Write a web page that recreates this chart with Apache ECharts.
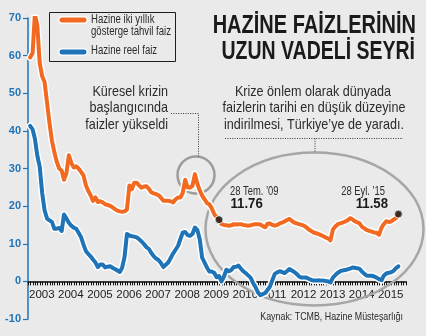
<!DOCTYPE html>
<html>
<head>
<meta charset="utf-8">
<script src="https://cdn.jsdelivr.net/npm/echarts@6/dist/echarts.min.js"></script>
<style>
  html, body { margin: 0; padding: 0; background: #eaeaea; }
  #chart { width: 426px; height: 336px; }
</style>
</head>
<body>
<div id="chart"></div>
<script>
// Year tick labels on the time axis
const yearLabels = ['2003', '2004', '2005', '2006', '2007', '2008', '2009',
                    '2010', '2011', '2012', '2013', '2014', '2015'];

// Hazine iki yıllık gösterge tahvil faizi (%), monthly, Jan 2003 – Sep 2015
const bondYield = [
  59.5, 60.7, 71, 68, 58, 54.5, 53, 47.5, 42, 37.5, 34.3, 31.8,        // 2003
  30, 29.4, 27, 28.8, 33.5, 31.5, 30.3, 30.6, 30, 29.1, 28.2, 25.6,    // 2004
  24, 22.8, 21.4, 22.3, 21.1, 21.3, 21, 20.5, 20.3, 20.1, 19.7, 19.2,  // 2005
  18.8, 18.6, 18.5, 18.6, 19.1, 25.5, 24.5, 26.2, 26.2, 25.5, 24.9, 25.2, // 2006
  25.3, 24.6, 23.7, 23.4, 23.2, 22.9, 22.3, 21.4, 21.4, 21.4, 21.3, 21,   // 2007
  21.8, 22.3, 22.3, 23.5, 27, 25, 24.9, 25.4, 28.5, 26, 24.2, 22.8,    // 2008
  21.8, 20.8, 20.5, 19.4, 17.9, 17, 16.4, 15.2, 15, 14.9, 14.8, 14.9,  // 2009
  15.2, 15.1, 15.2, 15.2, 15, 14.9, 14.8, 14.9, 15.1, 15.2, 15.2, 15.1, // 2010
  14.7, 14.4, 15.3, 15.4, 15, 14.8, 15, 15.4, 15.6, 15.9, 16.3, 16.6,  // 2011
  16.1, 15.6, 15.4, 15.2, 15, 14.8, 14.4, 13.8, 13.4, 13, 12.8, 12.6,  // 2012
  12.3, 12, 11.7, 11.4, 10.9, 13.8, 14.6, 15.2, 15.4, 15.6, 15.9, 16.2, // 2013
  16.8, 16.5, 16, 15.7, 15.4, 14.5, 14.1, 13.6, 13.4, 13.2, 13, 12.9,  // 2014
  12.4, 14.3, 15.2, 16, 15.8, 15.9, 16.4, 16.8, 17.9                   // 2015
];

// Hazine reel faizi (%), same months
const realRate = [
  41.3, 40.4, 38, 33.4, 30.5, 23.5, 18.9, 16.7, 16.2, 15.8, 14, 14,    // 2003
  14.2, 13.4, 17.8, 16.7, 15.6, 14.8, 14.3, 14, 12.9, 11.8, 9.8, 8.1,  // 2004
  7.3, 6.6, 5.8, 5, 3.8, 4.5, 4.5, 3.7, 3.9, 4, 3.6, 3.3,              // 2005
  2.9, 2.5, 3.6, 6.5, 12.6, 12.2, 12, 11.9, 11.7, 11.2, 10.6, 9.9,     // 2006
  9.1, 8.6, 7.6, 6.7, 6.1, 5.7, 4.9, 3.8, 4.4, 5, 6.2, 7.4,            // 2007
  8.4, 9.4, 11.2, 13, 13.1, 12.3, 12.1, 12.6, 14.3, 13.7, 11.2, 6.3,   // 2008
  5, 3.6, 2.6, 2.6, 2.3, 1.1, 1.4, 0, 1.3, 3.1, 2.7, 3,                // 2009
  3.8, 3.9, 4.2, 3.4, 2.7, 2.2, 1.6, 1, -0.4, -1.5, -2.9, -3.7,        // 2010
  -3.4, -3.1, -2.3, -1.4, 0.3, 2, 2.4, 2.7, 2.5, 2.2, 2.7, 3.3,        // 2011
  2.9, 2.5, 2, 1.3, 1, 1, 1, 0.7, 0.4, 0.2, 0.2, 0.3,                  // 2012
  0.2, 0.2, 0.1, 0, -0.3, 1, 1.7, 2.3, 2.7, 2.9, 3, 3.2,               // 2013
  3.4, 3.7, 3.6, 3.5, 3.3, 2.6, 2, 1.5, 1.5, 1.5, 1.3, 1,              // 2014
  0.6, 0.3, 1.5, 2.1, 2.3, 2.4, 2.8, 3.5, 4                            // 2015
];

// Highlighted readings on the bond-yield line
const calloutDates  = ['2009-07-28', '2015-09-28'];
const calloutTitles = ['28 Tem. \u201909', '28 Eyl. \u201915'];
const calloutValues = ['11.76', '11.58'];

const seriesNames = ['Hazine iki yıllık gösterge tahvil faiz', 'Hazine reel faiz'];

// Observation dates: the 28th of every month
const dates = bondYield.map((_, i) => {
  const y = 2003 + Math.floor(i / 12);
  const m = (i % 12) + 1;
  return y + '-' + String(m).padStart(2, '0') + '-28';
});

// Date string -> fractional year for the value axis
function toYear(s) {
  const [y, m, d] = s.split('-').map(Number);
  const start = Date.UTC(y, 0, 1), end = Date.UTC(y + 1, 0, 1);
  return y + (Date.UTC(y, m - 1, d) - start) / (end - start);
}

const ORANGE = '#f26a21';
const BLUE = '#1f73b7';
const TEXT = '#2b2b2b';
const FONT = '"Liberation Sans", Arial, sans-serif';

const bondData = dates.map((d, i) => [toYear(d), bondYield[i]]);
const realData = dates.map((d, i) => [toYear(d), realRate[i]]);
const calloutData = calloutDates.map(d => [toYear(d), bondYield[dates.indexOf(d)]]);

// Condensed-looking text: regular face squeezed horizontally
function label(text, x, baseline, size, opt) {
  opt = opt || {};
  const weight = opt.bold ? 'bold ' : '';
  return {
    type: 'text',
    x: x,
    y: baseline - 0.33 * size,
    scaleX: opt.squeeze || 0.84,
    z: 10,
    style: {
      text: text,
      font: weight + size + 'px ' + FONT,
      fill: opt.color || TEXT,
      textAlign: opt.align || 'left',
      textVerticalAlign: 'middle',
      align: opt.align || 'left',
      verticalAlign: 'middle'
    }
  };
}

function dotted(points) {
  return {
    type: 'polyline',
    z: 5,
    shape: { points: points },
    style: { stroke: '#3a3a3a', lineWidth: 1, lineDash: [1, 1.4], fill: null }
  };
}

function legendSwatch(y, color) {
  return [
    { type: 'line', z: 10, shape: { x1: 62, y1: y, x2: 84, y2: y },
      style: { stroke: '#ffffff', lineWidth: 7.5, lineCap: 'round' } },
    { type: 'line', z: 11, shape: { x1: 62, y1: y, x2: 84, y2: y },
      style: { stroke: color, lineWidth: 5, lineCap: 'round' } }
  ];
}

const graphics = [
  // title
  label('HAZİNE FAİZLERİNİN', 416, 34, 25, { bold: true, align: 'right', squeeze: 0.8, color: '#1a1a1a' }),
  label('UZUN VADELİ SEYRİ', 415, 60.7, 25, { bold: true, align: 'right', squeeze: 0.78, color: '#1a1a1a' }),

  // legend box
  { type: 'rect', z: 9, shape: { x: 49.5, y: 12.5, width: 126, height: 49 },
    style: { stroke: '#1e1e1e', lineWidth: 1, fill: null } },
  ...legendSwatch(20, ORANGE),
  ...legendSwatch(52, BLUE),
  label('Hazine iki yıllık', 91, 24, 12, { squeeze: 0.8 }),
  label('gösterge tahvil faiz', 91, 36, 12, { squeeze: 0.8 }),
  label('Hazine reel faiz', 91, 55, 12, { squeeze: 0.8 }),

  // left note
  label('Küresel krizin', 168, 96.7, 15, { align: 'right' }),
  label('başlangıcında', 168, 113.3, 15, { align: 'right' }),
  label('faizler yükseldi', 168, 130, 15, { align: 'right' }),
  dotted([[171, 113.5], [198.5, 113.5], [198.5, 156.5]]),
  { type: 'circle', z: 1, shape: { cx: 196, cy: 175, r: 18.5 },
    style: { stroke: '#9c9c9c', lineWidth: 2.5, fill: null } },

  // right note
  label('Krize önlem olarak dünyada', 313, 96.7, 15, { align: 'center' }),
  label('faizlerin tarihi en düşük düzeyine', 314, 113.3, 15, { align: 'center' }),
  label('indirilmesi, Türkiye\u2019ye de yaradı.', 314, 130, 15, { align: 'center' }),
  dotted([[225, 138.5], [403, 138.5]]),
  dotted([[315, 138.5], [315, 152]]),
  { type: 'ellipse', z: 1, shape: { cx: 314.5, cy: 229, rx: 109, ry: 76.5 },
    style: { stroke: '#a6a6a6', lineWidth: 2.5, fill: null } },

  // callouts
  label(calloutTitles[0], 230, 195.5, 12, { squeeze: 0.78 }),
  label(calloutValues[0], 230.5, 208.5, 15, { bold: true, squeeze: 0.88, color: '#1a1a1a' }),
  label(calloutTitles[1], 385, 195.5, 12, { align: 'right', squeeze: 0.78 }),
  label(calloutValues[1], 388, 209, 15, { align: 'right', bold: true, squeeze: 0.88, color: '#1a1a1a' }),

  // source
  label('Kaynak: TCMB, Hazine Müsteşarlığı', 403, 320.5, 11.5, { align: 'right', squeeze: 0.77 })
];

function lineSeries(name, data, color, width, halo) {
  return {
    name: name,
    type: 'line',
    data: data,
    symbol: 'none',
    smooth: false,
    silent: true,
    z: halo ? 3 : 4,
    lineStyle: { color: halo ? '#ffffff' : color, width: width, join: 'round', cap: 'round' }
  };
}

const chart = echarts.init(document.getElementById('chart'), null, { renderer: 'canvas' });
chart.setOption({
  backgroundColor: '#eaeaea',
  animation: false,
  grid: { left: 28, right: 20, top: 18, bottom: 17, containLabel: false },
  xAxis: {
    type: 'value',
    min: 2003,
    max: 2016,
    interval: 1,
    axisLine: { onZero: true, lineStyle: { color: '#111', width: 1.5 } },
    axisTick: { show: true, length: 4, lineStyle: { color: '#111', width: 1 } },
    minorTick: { show: true, splitNumber: 12, length: 4, lineStyle: { color: '#111', width: 1 } },
    splitLine: { show: false },
    axisLabel: {
      // year labels sit just under the zero line rather than under the grid
      margin: -30,
      align: 'left',
      padding: [0, 0, 0, 1],
      color: '#222',
      fontSize: 11.5,
      fontFamily: '"Liberation Sans", sans-serif',
      formatter: v => (yearLabels.indexOf(String(v)) >= 0 ? String(v) : '')
    }
  },
  yAxis: {
    type: 'value',
    min: -10,
    max: 70,
    interval: 10,
    axisLine: { show: true, onZero: false, lineStyle: { color: BLUE, width: 1.5 } },
    axisTick: { show: true, length: 5, lineStyle: { color: BLUE, width: 1.2 } },
    splitLine: { show: false },
    axisLabel: {
      margin: 7,
      color: BLUE,
      fontWeight: 'bold',
      fontSize: 11,
      fontFamily: '"Liberation Sans", sans-serif'
    }
  },
  series: [
    lineSeries(seriesNames[0], bondData, ORANGE, 7, true),
    lineSeries(seriesNames[0], bondData, ORANGE, 4, false),
    lineSeries(seriesNames[1], realData, BLUE, 7, true),
    lineSeries(seriesNames[1], realData, BLUE, 4, false),
    {
      name: 'callout',
      type: 'scatter',
      data: calloutData,
      symbol: 'circle',
      symbolSize: 8,
      z: 6,
      silent: true,
      itemStyle: { color: '#151515', borderColor: '#ffffff', borderWidth: 1 }
    }
  ],
  graphic: graphics
});
</script>
</body>
</html>
